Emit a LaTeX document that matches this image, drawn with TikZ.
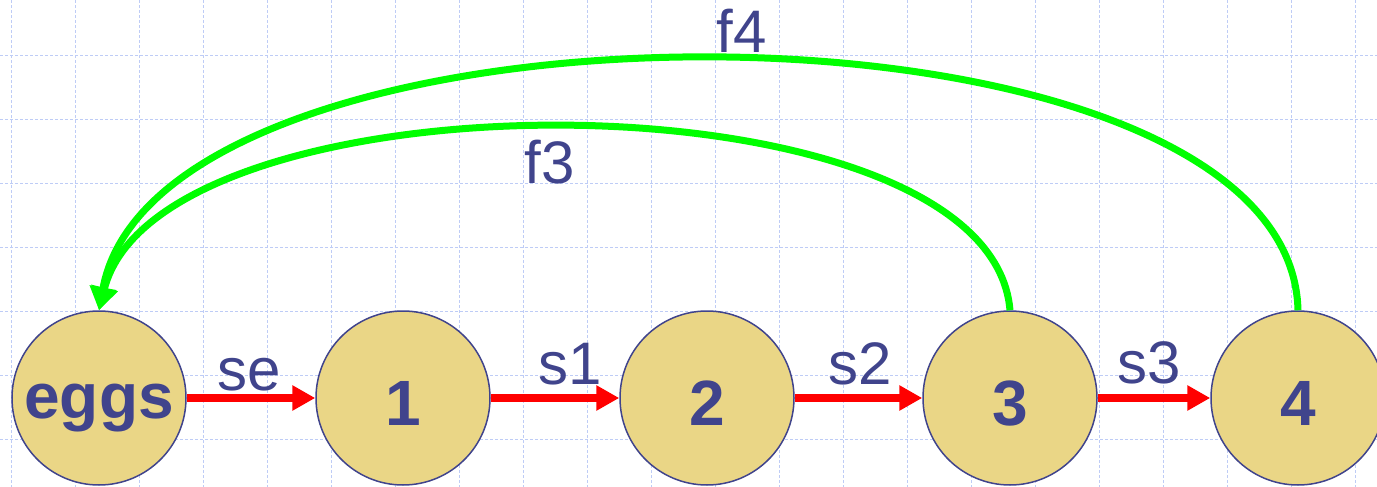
\documentclass[tikz,border=0pt]{standalone}
\usepackage{fontspec}
\setmainfont{Liberation Sans}
\usetikzlibrary{arrows.meta}
\definecolor{txt}{RGB}{64,68,140}
\definecolor{nodefill}{RGB}{234,214,134}
\definecolor{gridc}{RGB}{190,204,246}
\definecolor{grn}{RGB}{0,255,0}
\newcommand{\lowtext}[2]{\raisebox{-#1}[0pt][0pt]{#2}}
\begin{document}
\begin{tikzpicture}[x=0.5pt,y=-0.5pt,
 state/.style={circle,draw=txt,line width=0.75pt,fill=nodefill,minimum size=87pt,inner sep=0pt,font=\fontsize{32}{36}\selectfont\bfseries,text=txt},
 lbl/.style={font=\fontsize{30}{34}\selectfont,text=txt,inner sep=0pt,anchor=base},
 fwd/.style={draw=red,line width=4pt,-{Triangle[length=11.5pt,width=12pt]}},
 back/.style={draw=grn,line width=3.5pt,-{Triangle[length=11.5pt,width=13pt]}},
 gridline/.style={gridc,line width=0.45pt,dash pattern=on 1.5pt off 1pt}]
\useasboundingbox (0,0) rectangle (1377,487);
\foreach \x in {11,75,...,1371} \draw[gridline] (\x,0) -- (\x,487);
\foreach \y in {55,119,...,487} \draw[gridline] (0,\y) -- (1377,\y);
\node[state] (e) at (99,398) {\lowtext{10pt}{eggs}};
\node[state] (n1) at (403,398) {\lowtext{13.5pt}{1}};
\node[state] (n2) at (707,398) {\lowtext{13.5pt}{2}};
\node[state] (n3) at (1010,398) {\lowtext{13.5pt}{3}};
\node[state] (n4) at (1298,398) {\lowtext{13.5pt}{4}};
\draw[fwd] (e) -- (n1);
\draw[fwd] (n1) -- (n2);
\draw[fwd] (n2) -- (n3);
\draw[fwd] (n3) -- (n4);
\draw[back] (n3.north) .. controls (990,67) and (160,67) .. (e.north);
\draw[back] (n4.north) .. controls (1290,-24) and (160,-24) .. (e.north);
\node[lbl] (lse) at (249,390) {se};
\node[lbl] (ls1) at (570,384) {s1};
\node[lbl] (ls2) at (860,384) {s2};
\node[lbl] (ls3) at (1149,383) {s3};
\node[lbl] (lf4) at (742,53) {f4};
\node[lbl] (lf3) at (550,183) {f3};
\end{tikzpicture}
\end{document}
